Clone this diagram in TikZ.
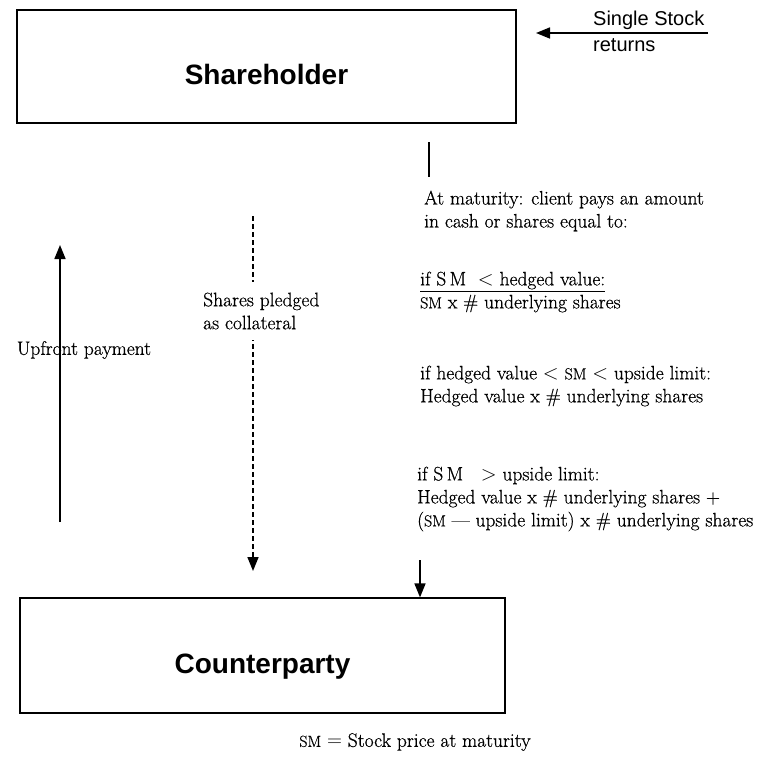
\documentclass[tikz,border=0pt]{standalone}
\usepackage{fontspec}
\newfontfamily\boxfont{Liberation Sans}
\newfontfamily\notefont{Latin Modern Roman}[FakeBold=0.6,Ligatures=TeX]
\newcommand{\sm}{{\fontsize{16}{16}\selectfont SM}}
\usetikzlibrary{arrows.meta}
\tikzset{
  party/.style={draw, line width=1.2pt, inner sep=0pt,
    font=\boxfont\bfseries\fontsize{28}{30}\selectfont,
    text height=36pt, text depth=0pt},
  flow/.style={line width=1.6pt, -{Triangle[length=14pt,width=11pt]}},
  note/.style={font=\notefont\fontsize{19.5}{23}\selectfont, align=left, anchor=west, inner sep=0pt},
  tag/.style={font=\boxfont\fontsize{20}{22}\selectfont, anchor=west, inner sep=0pt}
}

\begin{document}
\begin{tikzpicture}[x=1pt,y=-1pt]
	\useasboundingbox (0,0) rectangle (762,757);
	% the two parties
	\node[party, minimum width=499pt, minimum height=113pt] (holder) at (266.5,66.5) {Shareholder};
	\node[party, minimum width=485pt, minimum height=115pt] (cparty) at (262.5,655.5) {Counterparty};
	% stock returns into the shareholder
	\coordinate (retsrc) at (708,33);
	\coordinate (rettip) at (536,33);
	\draw[flow] (retsrc) -- (rettip);
	\node[tag] (single) at (593,20) {Single Stock};
	\node[tag] (returns) at (593,45) {returns};
	% upfront payment
	\coordinate (payfoot) at (60,522);
	\coordinate (paytip) at (60,245);
	\draw[flow] (payfoot) -- (paytip);
	\node[note, anchor=center] (upfront) at (84,350) {Upfront payment};
	% pledged shares
	\coordinate (pledgetop) at (253,216);
	\coordinate (pledgetip) at (253,571);
	\draw[flow, dash pattern=on 5pt off 3pt] (pledgetop) -- (pledgetip);
	\node[note, fill=white, inner ysep=11pt, inner xsep=2pt] (pledge) at (201,311)
		{Shares pledged\\as collateral};
	% settlement at maturity
	\coordinate (stubtop) at (429,142);
	\coordinate (stubbot) at (429,177);
	\draw[line width=1.6pt] (stubtop) -- (stubbot);
	\node[note] (terms) at (424,211)
		{At maturity: client pays an amount\\in cash or shares equal to:};
	\node[note] (caseA) at (420,292)
		{\underline{if S\,M\ \ $<$ hedged value:}\\\sm\ x \# underlying shares};
	\node[note] (caseB) at (420,386)
		{if hedged value $<$ \sm\ $<$ upside limit:\\Hedged value x \# underlying shares};
	\node[note] (caseC) at (417,499)
		{if S\,M\ \ \ $>$ upside limit:\\Hedged value x \# underlying shares +\\(\sm\ — upside limit) x \# underlying shares};
	\coordinate (settle) at (420,560);
	\draw[flow] (settle) -- (settle |- cparty.north);
	% footnote
	\node[note, anchor=center] (legend) at (415,742) {\sm\ $=$ Stock price at maturity};
\end{tikzpicture}
\end{document}
